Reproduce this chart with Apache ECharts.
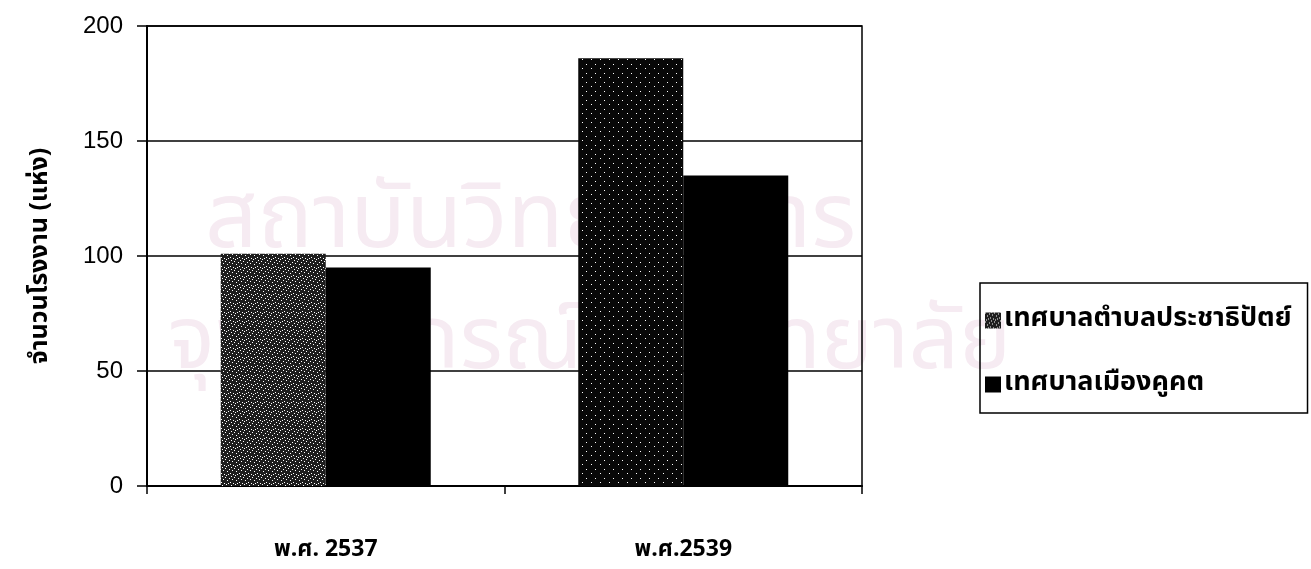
<!DOCTYPE html>
<html>
<head>
<meta charset="utf-8">
<script src="https://cdn.jsdelivr.net/npm/echarts@6/dist/echarts.min.js"></script>
<style>
html,body{margin:0;padding:0;background:#fff;}
#chart{width:1311px;height:569px;}
</style>
</head>
<body>
<div id="chart"></div>
<script>
const categories = ['พ.ศ. 2537', 'พ.ศ.2539'];
const seriesNames = ['เทศบาลตำบลประชาธิปัตย์', 'เทศบาลเมืองคูคต'];
const valuesPrachathipat = [101, 186];
const valuesKhukhot = [95, 135];
const yTicks = [0, 50, 100, 150, 200];
const yAxisTitle = 'จำนวนโรงงาน (แห่ง)';
const watermarkLine1 = 'สถาบันวิทยบริการ';
const watermarkLine2 = 'จุฬาลงกรณ์มหาวิทยาลัย';

function speckle(bg, dots) {
  const c = document.createElement('canvas');
  c.width = 9; c.height = 9;
  const g = c.getContext('2d');
  g.fillStyle = bg; g.fillRect(0, 0, 9, 9);
  g.fillStyle = '#ffffff';
  dots.forEach(d => g.fillRect(d[0], d[1], 1, 1));
  return c;
}
const denseDots = [[0,0],[4,1],[7,2],[2,3],[5,5],[8,6],[1,7],[6,8],[3,6]];
const sparseDots = [[1,1],[6,5]];
const patDense = { image: speckle('#1e1e1e', denseDots), repeat: 'repeat' };
const patSparse = { image: speckle('#080808', sparseDots), repeat: 'repeat' };

const thaiFont = '"Noto Sans Thai", "Noto Sans Thai Looped", Loma, Garuda, "Tlwg Typo", "Noto Sans", sans-serif';

const chart = echarts.init(document.getElementById('chart'), null, { renderer: 'canvas' });
chart.setOption({
  animation: false,
  backgroundColor: '#ffffff',
  graphic: [
    { type: 'text', left: 205, top: 182, z: -10, silent: true,
      style: { text: watermarkLine1, fill: '#f6ebf2', font: '92px ' + thaiFont } },
    { type: 'text', left: 168, top: 306, z: -10, silent: true,
      style: { text: watermarkLine2, fill: '#f6ebf2', font: '88px ' + thaiFont } }
  ],
  grid: { left: 147, right: 449, top: 26, bottom: 83, show: true, borderColor: '#000', borderWidth: 1.5, backgroundColor: 'transparent' },
  legend: {
    orient: 'vertical',
    left: 980, top: 283,
    padding: [24, 16, 15, 5],
    itemGap: 37,
    itemWidth: 16, itemHeight: 16,
    icon: 'rect',
    borderColor: '#000', borderWidth: 1.5,
    textStyle: { fontFamily: thaiFont, fontWeight: 'bold', fontSize: 27, color: '#000', padding: [0, 0, 0, -2] },
    data: seriesNames
  },
  xAxis: {
    type: 'category',
    data: categories,
    axisLine: { lineStyle: { color: '#000', width: 2 } },
    axisTick: { show: true, length: 8, lineStyle: { color: '#000', width: 1.5 } },
    axisLabel: { margin: 54, fontFamily: thaiFont, fontWeight: 'bold', fontSize: 23, color: '#000' }
  },
  yAxis: {
    type: 'value',
    min: 0, max: 200, interval: 50,
    name: yAxisTitle,
    nameLocation: 'middle',
    nameRotate: 90,
    nameGap: 93,
    nameTextStyle: { fontFamily: thaiFont, fontWeight: 'bold', fontSize: 25, color: '#000' },
    axisLine: { show: true, lineStyle: { color: '#000', width: 2 } },
    axisTick: { show: true, length: 10, lineStyle: { color: '#000', width: 1.5 } },
    axisLabel: { margin: 24, fontFamily: '"Liberation Sans", Arial, sans-serif', fontSize: 24, color: '#000',
      formatter: v => yTicks.includes(v) ? String(v) : '' },
    splitLine: { show: true, lineStyle: { color: '#000', width: 1.5 } }
  },
  series: [
    {
      name: seriesNames[0], type: 'bar', barWidth: 105, barGap: '0%',
      itemStyle: { color: patDense },
      data: valuesPrachathipat.map((v, i) => i === 1 ? { value: v, itemStyle: { color: patSparse } } : v)
    },
    {
      name: seriesNames[1], type: 'bar', barWidth: 105, barGap: '0%',
      itemStyle: { color: '#000' },
      data: valuesKhukhot
    }
  ]
});
</script>
</body>
</html>
